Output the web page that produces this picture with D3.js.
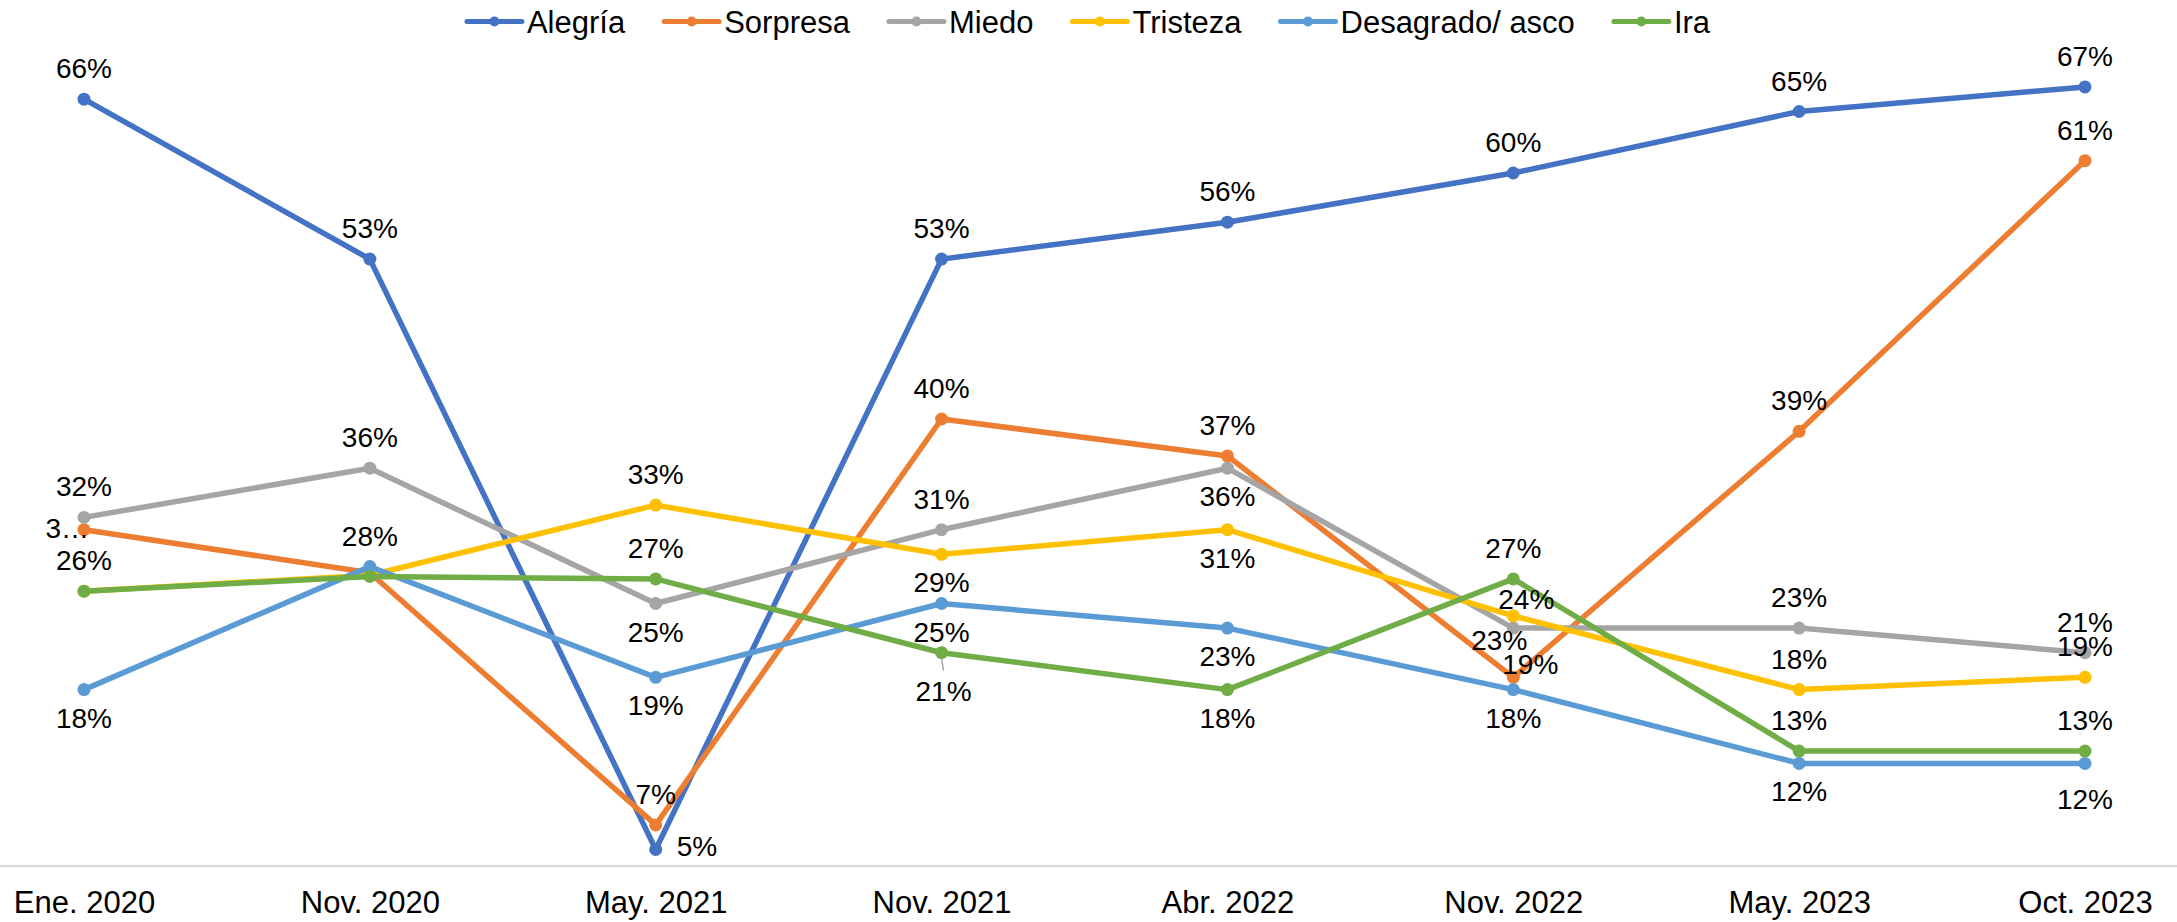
<!DOCTYPE html>
<html>
<head>
<meta charset="utf-8">
<script src="https://cdn.jsdelivr.net/npm/d3@7"></script>
<style>
  html, body { margin: 0; padding: 0; background: #ffffff; }
  svg { display: block; font-family: "Liberation Sans", Arial, sans-serif; }
</style>
</head>
<body>
<svg id="chart" width="2177" height="922"></svg>
<script>
// Survey waves (x categories)
const months = ["Ene. 2020", "Nov. 2020", "May. 2021", "Nov. 2021", "Abr. 2022", "Nov. 2022", "May. 2023", "Oct. 2023"];

// Share of respondents per emotion and wave
const alegria   = [0.66, 0.53, 0.05, 0.53, 0.56, 0.60, 0.65, 0.67];
const sorpresa  = [0.31, 0.275, 0.07, 0.40, 0.37, 0.19, 0.39, 0.61];
const miedo     = [0.32, 0.36, 0.25, 0.31, 0.36, 0.23, 0.23, 0.21];
const tristeza  = [0.26, 0.273, 0.33, 0.29, 0.31, 0.24, 0.18, 0.19];
const desagrado = [0.18, 0.28, 0.19, 0.25, 0.23, 0.18, 0.12, 0.12];
const ira       = [0.26, 0.272, 0.27, 0.21, 0.18, 0.27, 0.13, 0.13];

const seriesNames = ["Alegría", "Sorpresa", "Miedo", "Tristeza", "Desagrado/ asco", "Ira"];
const seriesValues = [alegria, sorpresa, miedo, tristeza, desagrado, ira];
const seriesColors = ["#4472C4", "#ED7D31", "#A5A5A5", "#FFC000", "#5B9BD5", "#70AD47"];

// Where each value label sits relative to its point:
// "a" above, "b" below, "r" right, "n" none, "t" truncated at left,
// or [dx, baseline dy] for hand-placed labels.
const labelPlacement = [
  ["a", "a", "r", "a", "a", "a", "a", "a"],
  ["t", "n", "a", "a", "a", [17, -3], "a", "a"],
  ["a", "a", "b", "a", "b", [-14, 22], "a", "a"],
  ["a", "n", "a", "b", "b", [13, -7], "a", "a"],
  ["b", "a", "b", "b", "b", "b", "b", [0, 46]],
  ["n", "n", "a", [2, 48, "leader"], "b", "a", "a", "a"]
];

const W = 2177, H = 922;
const svg = d3.select("#chart");

const x = d3.scalePoint().domain(months).range([84, 2085]);
const y = d3.scaleLinear().domain([0.0366, 0.70]).range([866, 50]);
const pct = d3.format(".0%");
const axisY = y(0.0366);

// Category axis
const axisG = svg.append("g")
  .attr("transform", `translate(0,${axisY})`)
  .call(d3.axisBottom(x).tickSize(0).tickPadding(25));
axisG.select(".domain").remove();
axisG.selectAll("text")
  .attr("font-size", 31)
  .attr("font-family", "'Liberation Sans', Arial, sans-serif")
  .attr("fill", "#000");
svg.append("line")
  .attr("x1", 0).attr("x2", W)
  .attr("y1", axisY).attr("y2", axisY)
  .attr("stroke", "#D9D9D9").attr("stroke-width", 2.5);

const line = d3.line()
  .x((d, i) => x(months[i]))
  .y(d => y(d));

// Lines and markers
seriesValues.forEach((vals, s) => {
  const g = svg.append("g");
  g.append("path")
    .datum(vals)
    .attr("d", line)
    .attr("fill", "none")
    .attr("stroke", seriesColors[s])
    .attr("stroke-width", 5.5)
    .attr("stroke-linejoin", "round")
    .attr("stroke-linecap", "round");
  g.selectAll("circle")
    .data(vals)
    .join("circle")
    .attr("cx", (d, i) => x(months[i]))
    .attr("cy", d => y(d))
    .attr("r", 6.5)
    .attr("fill", seriesColors[s]);
});

// Value labels
const labelG = svg.append("g").attr("font-size", 28).attr("fill", "#000");
seriesValues.forEach((vals, s) => {
  vals.forEach((v, i) => {
    const p = labelPlacement[s][i];
    if (p === "n") return;
    const px = x(months[i]), py = y(v);
    let tx = px, ty = py, anchor = "middle", txt = pct(v);
    if (p === "a") { ty = py - 21; }
    else if (p === "b") { ty = py + 38; }
    else if (p === "r") { tx = px + 21; ty = py + 6; anchor = "start"; }
    else if (p === "t") { tx = px + 5; ty = py + 8; anchor = "end"; txt = txt.charAt(0) + "…"; }
    else if (Array.isArray(p)) {
      tx = px + p[0]; ty = py + p[1];
      if (p[2] === "leader") {
        labelG.append("line")
          .attr("x1", px).attr("y1", py + 6)
          .attr("x2", px + 2).attr("y2", py + 18)
          .attr("stroke", "#A5A5A5").attr("stroke-width", 1.5);
      }
    }
    labelG.append("text")
      .attr("x", tx).attr("y", ty)
      .attr("text-anchor", anchor)
      .text(txt);
  });
});

// Legend, centred along the top edge
const legend = svg.append("g").attr("font-size", 31);
const items = legend.selectAll("g.item")
  .data(seriesNames)
  .join("g").attr("class", "item");
items.append("line")
  .attr("x1", 0).attr("x2", 55).attr("y1", 0).attr("y2", 0)
  .attr("stroke", (d, i) => seriesColors[i]).attr("stroke-width", 5)
  .attr("stroke-linecap", "round");
items.append("circle")
  .attr("cx", 27.5).attr("cy", 0).attr("r", 5)
  .attr("fill", (d, i) => seriesColors[i]);
items.append("text")
  .attr("x", 60).attr("y", 11)
  .attr("fill", "#000")
  .text(d => d);
let cursor = 0;
items.each(function () {
  const w = 60 + d3.select(this).select("text").node().getComputedTextLength();
  d3.select(this).attr("transform", `translate(${cursor},0)`);
  cursor += w + 39;
});
const total = cursor - 39;
legend.attr("transform", `translate(${(W - total) / 2},21.5)`);
</script>
</body>
</html>
